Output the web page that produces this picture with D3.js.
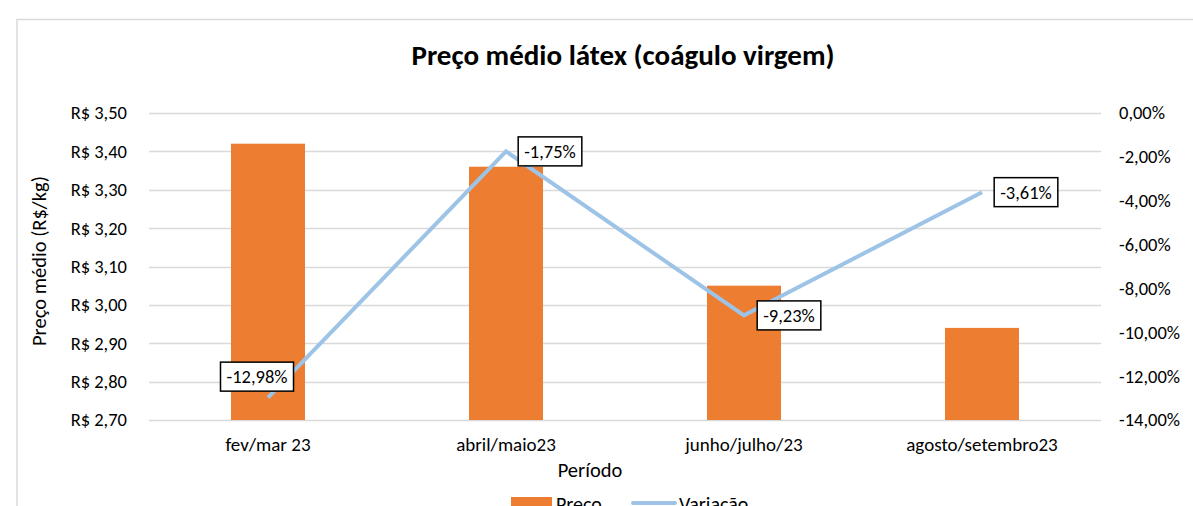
<!DOCTYPE html>
<html>
<head>
<meta charset="utf-8">
<script src="https://cdn.jsdelivr.net/npm/d3@7"></script>
<style>
  body { margin: 0; background: white; }
  text { font-family: Carlito, Calibri, Lato, "Open Sans", sans-serif; fill: #000; }
</style>
</head>
<body>
<svg width="1193" height="506"></svg>
<script>
var periodos = ["fev/mar 23", "abril/maio23", "junho/julho/23", "agosto/setembro23"];
var preco = [3.42, 3.36, 3.05, 2.94];
var variacao = [-12.98, -1.75, -9.23, -3.61];
var precoTicks = [2.7, 2.8, 2.9, 3.0, 3.1, 3.2, 3.3, 3.4, 3.5];
var varTicks = [0, -2, -4, -6, -8, -10, -12, -14];

// where each data label box sits relative to its point (dx, dy of box centre)
var labelOffset = [[-11, -21], [44, 0], [45, 0], [44, 0]];

var barColor = "#ED7D31";
var lineColor = "#9DC3E6";
var gridColor = "#d9d9d9";

var svg = d3.select("svg");
var pLeft = 149, pRight = 1101, pTop = 113, pBottom = 420;

var fmtBRL = function (v) { return "R$ " + v.toFixed(2).replace(".", ","); };
var fmtPct = function (v) { return v.toFixed(2).replace(".", ",") + "%"; };

// chart frame
svg.append("rect")
  .attr("x", 17).attr("y", 19.5)
  .attr("width", 1180).attr("height", 500)
  .attr("fill", "none")
  .attr("stroke", gridColor)
  .attr("stroke-width", 1.5);

var x = d3.scaleBand().domain(periodos).range([pLeft, pRight]);
var y = d3.scaleLinear().domain([2.7, 3.5]).range([pBottom, pTop]);
var y2 = d3.scaleLinear().domain([-14, 0]).range([pBottom, pTop]);

// gridlines
svg.selectAll(".grid")
  .data(precoTicks)
.enter().append("line")
  .attr("class", "grid")
  .attr("x1", pLeft).attr("x2", pRight)
  .attr("y1", function (d) { return Math.round(y(d)) + 0.5; })
  .attr("y2", function (d) { return Math.round(y(d)) + 0.5; })
  .attr("stroke", gridColor)
  .attr("stroke-width", 1.3);

// left axis
var leftAxis = svg.append("g")
  .attr("transform", "translate(" + pLeft + ",0)")
  .call(d3.axisLeft(y).tickValues(precoTicks).tickFormat(fmtBRL).tickSize(0).tickPadding(22));
leftAxis.select(".domain").remove();
leftAxis.selectAll("text").style("font-size", "18.5px").style("font-family", null);

// right axis
var rightAxis = svg.append("g")
  .attr("transform", "translate(" + pRight + ",0)")
  .call(d3.axisRight(y2).tickValues(varTicks).tickFormat(fmtPct).tickSize(0).tickPadding(18));
rightAxis.select(".domain").remove();
rightAxis.selectAll("text").style("font-size", "18.5px").style("font-family", null);

// bottom axis labels
var bottomAxis = svg.append("g")
  .attr("transform", "translate(0," + pBottom + ")")
  .call(d3.axisBottom(x).tickSize(0).tickPadding(18));
bottomAxis.select(".domain").remove();
bottomAxis.selectAll("text").style("font-size", "19px").style("font-family", null);

// bars
var bw = 74;
svg.selectAll(".bar")
  .data(preco)
.enter().append("rect")
  .attr("class", "bar")
  .attr("x", function (d, i) { return x(periodos[i]) + x.bandwidth() / 2 - bw / 2; })
  .attr("y", function (d) { return y(d); })
  .attr("width", bw)
  .attr("height", function (d) { return pBottom - y(d); })
  .attr("fill", barColor);

// line
var line = d3.line()
  .x(function (d, i) { return x(periodos[i]) + x.bandwidth() / 2; })
  .y(function (d) { return y2(d); });

svg.append("path")
  .datum(variacao)
  .attr("d", line)
  .attr("fill", "none")
  .attr("stroke", lineColor)
  .attr("stroke-width", 4);

// data labels
var labels = svg.selectAll(".lbl")
  .data(variacao)
.enter().append("g")
  .attr("class", "lbl")
  .attr("transform", function (d, i) {
    var cx = x(periodos[i]) + x.bandwidth() / 2 + labelOffset[i][0];
    var cy = y2(d) + labelOffset[i][1];
    return "translate(" + cx + "," + cy + ")";
  });

labels.append("text")
  .attr("text-anchor", "middle")
  .attr("dy", "0.35em")
  .style("font-size", "18.5px")
  .text(fmtPct);

labels.each(function () {
  var g = d3.select(this);
  var b = g.select("text").node().getBBox();
  g.insert("rect", "text")
    .attr("x", b.x - 6).attr("y", -14.5)
    .attr("width", b.width + 12).attr("height", 29)
    .attr("fill", "white")
    .attr("stroke", "#000")
    .attr("stroke-width", 1.5);
});

// title
svg.append("text")
  .attr("x", 623).attr("y", 65)
  .attr("text-anchor", "middle")
  .style("font-size", "29px")
  .style("font-weight", "bold")
  .text("Preço médio látex (coágulo virgem)");

// axis titles
svg.append("text")
  .attr("transform", "translate(46,261) rotate(-90)")
  .attr("text-anchor", "middle")
  .style("font-size", "20.5px")
  .text("Preço médio (R$/kg)");

svg.append("text")
  .attr("x", 590).attr("y", 477)
  .attr("text-anchor", "middle")
  .style("font-size", "20.5px")
  .text("Período");

// legend
var legend = svg.append("g");
legend.append("rect")
  .attr("x", 511).attr("y", 497)
  .attr("width", 41).attr("height", 12)
  .attr("fill", barColor);
legend.append("text")
  .attr("x", 556).attr("y", 511)
  .style("font-size", "20px")
  .text("Preço");
legend.append("line")
  .attr("x1", 633).attr("x2", 675)
  .attr("y1", 503).attr("y2", 503)
  .attr("stroke", lineColor)
  .attr("stroke-width", 4)
  .attr("stroke-linecap", "round");
legend.append("text")
  .attr("x", 679).attr("y", 511)
  .style("font-size", "20px")
  .text("Variação");
</script>
</body>
</html>
